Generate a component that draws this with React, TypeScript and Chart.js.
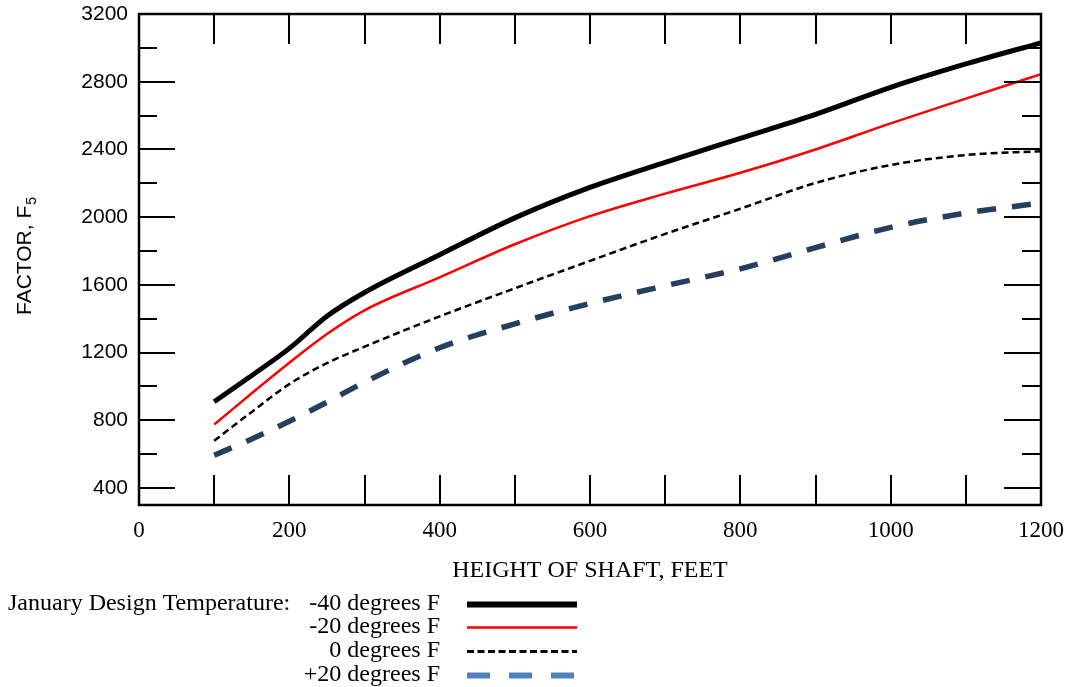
import React, { useEffect, useRef } from "react";
import { Chart, registerables } from "chart.js";

Chart.register(...registerables);

// ---- data ----
const heights = [100, 150, 200, 250, 300, 400, 500, 600, 700, 800, 900, 1000, 1100, 1200];
const minus40 = [910, 1065, 1225, 1415, 1555, 1778, 1996, 2176, 2324, 2466, 2607, 2767, 2905, 3030];
const minus20 = [775, 960, 1140, 1310, 1450, 1645, 1840, 2006, 2139, 2262, 2400, 2554, 2700, 2845];
const zeroF = [680, 850, 1014, 1138, 1235, 1414, 1580, 1742, 1901, 2050, 2202, 2308, 2367, 2390];
const plus20 = [594, 690, 795, 907, 1025, 1229, 1370, 1490, 1595, 1695, 1820, 1940, 2024, 2084];

const seriesLabels = ["-40 degrees F", "-20 degrees F", "0 degrees F", "+20 degrees F"];
const legendPrefix = "January Design Temperature:";

const xTickLabels = [0, 200, 400, 600, 800, 1000, 1200];
const yTickLabels = [400, 800, 1200, 1600, 2000, 2400, 2800, 3200];
const xTickMarks = [100, 200, 300, 400, 500, 600, 700, 800, 900, 1000, 1100];
const yMajorMarks = [400, 800, 1200, 1600, 2000, 2400, 2800];
const yMinorMarks = [600, 1000, 1400, 1800, 2200, 2600, 3000];

const xTitle = "HEIGHT OF SHAFT, FEET";
const yTitleMain = "FACTOR, F";
const yTitleSub = "5";

const SERIF = "'Liberation Serif', 'Times New Roman', serif";
const SANS = "'Liberation Sans', Arial, sans-serif";

const styles = [
  { color: "#000000", width: 5, dash: [] as number[], legendColor: "#000000", legendWidth: 6, legendDash: [] as number[] },
  { color: "#ff0000", width: 2.5, dash: [], legendColor: "#ff0000", legendWidth: 2.5, legendDash: [] },
  { color: "#000000", width: 2.5, dash: [7, 4], legendColor: "#000000", legendWidth: 3, legendDash: [7, 3.5] },
  { color: "#263f5f", width: 5.5, dash: [19, 16], legendColor: "#4f81bd", legendWidth: 6, legendDash: [23, 19] },
];

const seriesValues = [minus40, minus20, zeroF, plus20];

const framePlugin = {
  id: "framePlugin",
  afterDatasetsDraw(chart: any) {
    const { ctx, chartArea: a, scales } = chart;
    const xs = scales.x;
    const ys = scales.y;
    const line = (x1: number, y1: number, x2: number, y2: number) => {
      ctx.beginPath();
      ctx.moveTo(x1, y1);
      ctx.lineTo(x2, y2);
      ctx.stroke();
    };
    ctx.save();
    ctx.strokeStyle = "#000";
    ctx.setLineDash([]);
    ctx.lineWidth = 2;
    for (const v of xTickMarks) {
      const px = Math.round(xs.getPixelForValue(v));
      line(px, a.top, px, a.top + 30);
      line(px, a.bottom, px, a.bottom - 30);
    }
    for (const v of yMajorMarks) {
      const py = Math.round(ys.getPixelForValue(v));
      line(a.left, py, a.left + 36, py);
      line(a.right, py, a.right - 37, py);
    }
    for (const v of yMinorMarks) {
      const py = Math.round(ys.getPixelForValue(v));
      line(a.left, py, a.left + 18, py);
      line(a.right, py, a.right - 19, py);
    }
    ctx.lineWidth = 2.5;
    ctx.strokeRect(a.left, a.top, a.right - a.left, a.bottom - a.top);
    ctx.restore();
  },
  afterDraw(chart: any) {
    const { ctx } = chart;
    ctx.save();
    // y title with subscript
    ctx.translate(23, 256);
    ctx.rotate(-Math.PI / 2);
    ctx.fillStyle = "#000";
    ctx.font = `21px ${SANS}`;
    const wMain = ctx.measureText(yTitleMain).width;
    ctx.font = `14px ${SANS}`;
    const wSub = ctx.measureText(yTitleSub).width;
    const start = -(wMain + wSub + 1) / 2;
    ctx.textBaseline = "alphabetic";
    ctx.textAlign = "left";
    ctx.font = `21px ${SANS}`;
    ctx.fillText(yTitleMain, start, 8);
    ctx.font = `14px ${SANS}`;
    ctx.fillText(yTitleSub, start + wMain + 1, 13);
    ctx.restore();

    // legend
    ctx.save();
    ctx.font = `24px ${SERIF}`;
    ctx.fillStyle = "#000";
    ctx.textBaseline = "middle";
    const rows = [604, 627, 651, 675];
    ctx.textAlign = "left";
    ctx.fillText(legendPrefix, 8, rows[0]);
    ctx.textAlign = "right";
    seriesLabels.forEach((lab, i) => {
      ctx.fillText(lab, 440, rows[i]);
      const s = styles[i];
      ctx.strokeStyle = s.legendColor;
      ctx.lineWidth = s.legendWidth;
      ctx.setLineDash(s.legendDash);
      ctx.beginPath();
      ctx.moveTo(467, rows[i] + 0.5);
      ctx.lineTo(577, rows[i] + 0.5);
      ctx.stroke();
    });
    ctx.restore();
  },
};

const noPad = (axis: any) => {
  axis.paddingLeft = 0;
  axis.paddingRight = 0;
  axis.paddingTop = 0;
  axis.paddingBottom = 0;
};

export default function App() {
  const ref = useRef<HTMLCanvasElement | null>(null);
  useEffect(() => {
    if (!ref.current) return;
    const datasets = seriesValues.map((vals, i) => ({
      label: seriesLabels[i],
      data: heights.map((h, j) => ({ x: h, y: vals[j] })),
      borderColor: styles[i].color,
      borderWidth: styles[i].width,
      borderDash: styles[i].dash,
      borderCapStyle: "butt" as const,
      pointRadius: 0,
      fill: false,
      cubicInterpolationMode: "monotone" as const,
    }));
    const chart = new Chart(ref.current, {
      type: "line",
      data: { datasets },
      plugins: [framePlugin],
      options: {
        animation: false,
        responsive: false,
        maintainAspectRatio: false,
        layout: { padding: { left: 0, right: 26, top: 14, bottom: 102 } },
        plugins: { legend: { display: false }, tooltip: { enabled: false } },
        scales: {
          x: {
            type: "linear",
            min: 0,
            max: 1200,
            afterBuildTicks: (axis: any) => {
              axis.ticks = xTickLabels.map((v) => ({ value: v }));
            },
            afterFit: (axis: any) => {
              axis.height = 80;
              noPad(axis);
            },
            grid: { display: false, drawTicks: false },
            border: { display: false },
            ticks: {
              autoSkip: false,
              maxRotation: 0,
              padding: 12,
              color: "#000",
              font: { family: SERIF, size: 23 },
              callback: (v: any) => String(v),
            },
            title: {
              display: true,
              text: xTitle,
              color: "#000",
              font: { family: SERIF, size: 24 },
              padding: { top: 0, bottom: 0 },
            },
          },
          y: {
            type: "linear",
            min: 300,
            max: 3200,
            afterBuildTicks: (axis: any) => {
              axis.ticks = yTickLabels.map((v) => ({ value: v }));
            },
            afterFit: (axis: any) => {
              axis.width = 139;
              noPad(axis);
            },
            grid: { display: false, drawTicks: false },
            border: { display: false },
            ticks: {
              autoSkip: false,
              padding: 11,
              color: "#000",
              font: { family: SANS, size: 21 },
              callback: (v: any) => String(v),
            },
          },
        },
      },
    });
    return () => chart.destroy();
  }, []);
  return (
    <div style={{ position: "absolute", left: 0, top: 0, width: 1067, height: 687, background: "#fff" }}>
      <canvas ref={ref} width={1067} height={687} style={{ width: 1067, height: 687, display: "block" }} />
    </div>
  );
}
